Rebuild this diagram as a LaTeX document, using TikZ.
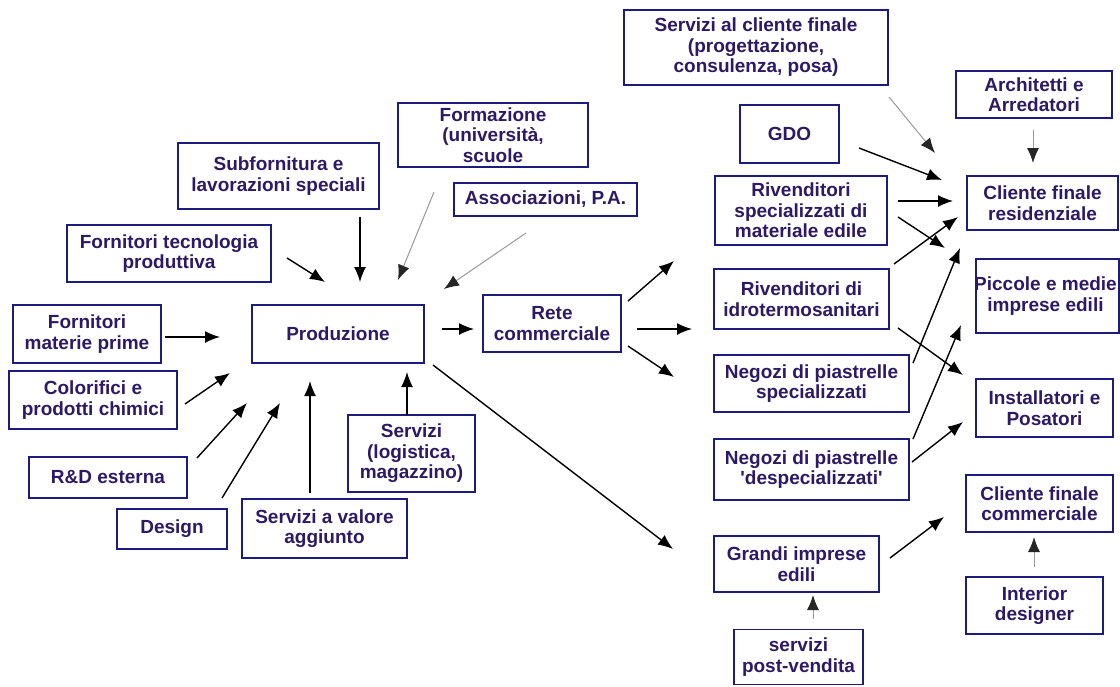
\documentclass[tikz,border=0pt]{standalone}
\usepackage{fontspec}
\setmainfont{Liberation Sans}
\usetikzlibrary{arrows.meta}
\definecolor{boxblue}{RGB}{28,28,125}
\definecolor{txtblue}{RGB}{45,25,100}
\tikzset{
  box/.style={draw=boxblue, line width=1.8pt, fill=white, align=center, inner sep=0pt,
    text=txtblue, font=\fontsize{19}{20.5}\selectfont\bfseries},
  arr/.style={draw=black, line width=1.4pt, -{Latex[length=15pt,width=12pt]}},
  garr/.style={draw=black!40, line width=1pt, -{Latex[length=15pt,width=12pt,color=black!85]}}
}
\begin{document}
\begin{tikzpicture}[x=1pt,y=-1pt]
\useasboundingbox[fill=white] (0,0) rectangle (1120,686);

% nodes
\node[box, minimum width=264pt, minimum height=75pt] (sercli) at (756,47.5) {Servizi al cliente finale\\(progettazione,\\consulenza, posa)};
\node[box, minimum width=156pt, minimum height=47pt] (arch) at (1034,94.5) {Architetti e\\Arredatori};
\node[box, minimum width=99pt, minimum height=58pt] (gdo) at (789.5,134) {GDO};
\node[box, minimum width=172pt, minimum height=69pt] (rivspec) at (801,210.5) {Rivenditori\\specializzati di\\materiale edile};
\node[box, minimum width=151pt, minimum height=54pt] (resid) at (1042.5,203) {Cliente finale\\residenziale};
\node[box, minimum width=190pt, minimum height=64pt] (formaz) at (493,135) {Formazione\\(università,\\scuole};
\node[box, minimum width=183pt, minimum height=33pt] (assoc) at (545.5,199.5) {Associazioni, P.A.};
\node[box, minimum width=138pt, minimum height=57pt] (rete) at (552,323.5) {Rete\\commerciale};
\node[box, minimum width=201pt, minimum height=66pt] (subf) at (278.5,176) {Subfornitura e\\lavorazioni speciali};
\node[box, minimum width=204pt, minimum height=57pt] (forntec) at (169,253.5) {Fornitori tecnologia\\produttiva};
\node[box, minimum width=148pt, minimum height=58pt] (fornmat) at (87,334) {Fornitori\\materie prime};
\node[box, minimum width=172pt, minimum height=58pt] (prod) at (338,334) {Produzione};
\node[box, minimum width=168pt, minimum height=58pt] (color) at (93,400) {Colorifici e\\prodotti chimici};
\node[box, minimum width=158pt, minimum height=41pt] (rd) at (108,477.5) {R\&D esterna};
\node[box, minimum width=110pt, minimum height=40pt] (design) at (172,529) {Design};
\node[box, minimum width=165pt, minimum height=59pt] (servval) at (324.5,528.5) {Servizi a valore\\aggiunto};
\node[box, minimum width=127pt, minimum height=77pt] (servlog) at (411.5,453.5) {Servizi\\(logistica,\\magazzino)};
\node[box, minimum width=175pt, minimum height=60pt] (rividro) at (801.5,299) {Rivenditori di\\idrotermosanitari};
\node[box, fill=none, minimum width=143pt, minimum height=74pt] (piccole) at (1047.5,296) {};
\node[text=txtblue, font=\fontsize{19}{20.5}\selectfont\bfseries, align=center, inner sep=0pt] (piccoletxt) at (1045.5,296) {Piccole e medie\\imprese edili};
\node[box, minimum width=195pt, minimum height=57pt] (negspec) at (811.5,383.5) {Negozi di piastrelle\\specializzati};
\node[box, minimum width=137pt, minimum height=58pt] (install) at (1044.5,408) {Installatori e\\Posatori};
\node[box, minimum width=195pt, minimum height=61pt] (negdesp) at (811.5,469.5) {Negozi di piastrelle\\\textquotesingle despecializzati\textquotesingle};
\node[box, minimum width=147pt, minimum height=57pt] (clicomm) at (1039.5,503.5) {Cliente finale\\commerciale};
\node[box, minimum width=165pt, minimum height=56pt] (grandi) at (796.5,564) {Grandi imprese\\edili};
\node[box, minimum width=129pt, minimum height=55pt] (postv) at (798.5,657) {servizi\\post-vendita};
\node[box, minimum width=137pt, minimum height=57pt] (interior) at (1034.5,605.5) {Interior\\designer};

% connector end points
\coordinate (a1s) at (287,258);  \coordinate (a1e) at (325,282);
\coordinate (a2s) at (360,217);  \coordinate (a2e) at (360,282);
\coordinate (a3s) at (434,192);  \coordinate (a3e) at (398,280);
\coordinate (a4s) at (526,233);  \coordinate (a4e) at (444,289);
\coordinate (a5s) at (165,337);  \coordinate (a5e) at (220,337);
\coordinate (a6s) at (185,404);  \coordinate (a6e) at (230,373);
\coordinate (a7s) at (197,458);  \coordinate (a7e) at (247,403);
\coordinate (a8s) at (222,498);  \coordinate (a8e) at (280,403);
\coordinate (a9s) at (310,493);  \coordinate (a9e) at (310,381);
\coordinate (a10s) at (407,415); \coordinate (a10e) at (407,372);
\coordinate (a11s) at (442,329); \coordinate (a11e) at (474,329);
\coordinate (a12s) at (433,365); \coordinate (a12e) at (673,549);
\coordinate (a13s) at (628,301); \coordinate (a13e) at (674,261);
\coordinate (a14s) at (637,329); \coordinate (a14e) at (692,329);
\coordinate (a15s) at (628,346); \coordinate (a15e) at (674,377);
\coordinate (a16s) at (889,97);  \coordinate (a16e) at (935,153);
\coordinate (a17s) at (859,148); \coordinate (a17e) at (942,180);
\coordinate (a18s) at (1033,130); \coordinate (a18e) at (1033,163);
\coordinate (a19s) at (898,201); \coordinate (a19e) at (953,201);
\coordinate (a20s) at (898,217); \coordinate (a20e) at (945,248);
\coordinate (a21s) at (894,264); \coordinate (a21e) at (958,217);
\coordinate (a22s) at (898,328); \coordinate (a22e) at (963,375);
\coordinate (a23s) at (913,363); \coordinate (a23e) at (960,248);
\coordinate (a24s) at (913,439); \coordinate (a24e) at (961,325);
\coordinate (a25s) at (912,462); \coordinate (a25e) at (963,422);
\coordinate (a26s) at (890,558); \coordinate (a26e) at (944,517);
\coordinate (a27s) at (1034,567); \coordinate (a27e) at (1034,537);
\coordinate (a28s) at (813,619); \coordinate (a28e) at (813,595);

% connectors
\draw[arr] (a1s) -- (a1e);
\draw[arr] (a2s) -- (a2e);
\draw[garr] (a3s) -- (a3e);
\draw[garr] (a4s) -- (a4e);
\draw[arr] (a5s) -- (a5e);
\draw[arr] (a6s) -- (a6e);
\draw[arr] (a7s) -- (a7e);
\draw[arr] (a8s) -- (a8e);
\draw[arr] (a9s) -- (a9e);
\draw[arr] (a10s) -- (a10e);
\draw[arr] (a11s) -- (a11e);
\draw[arr] (a12s) -- (a12e);
\draw[arr] (a13s) -- (a13e);
\draw[arr] (a14s) -- (a14e);
\draw[arr] (a15s) -- (a15e);
\draw[garr] (a16s) -- (a16e);
\draw[arr] (a17s) -- (a17e);
\draw[garr] (a18s) -- (a18e);
\draw[arr] (a19s) -- (a19e);
\draw[arr] (a20s) -- (a20e);
\draw[arr] (a21s) -- (a21e);
\draw[arr] (a22s) -- (a22e);
\draw[arr] (a23s) -- (a23e);
\draw[arr] (a24s) -- (a24e);
\draw[arr] (a25s) -- (a25e);
\draw[arr] (a26s) -- (a26e);
\draw[garr] (a27s) -- (a27e);
\draw[garr] (a28s) -- (a28e);
\end{tikzpicture}
\end{document}
